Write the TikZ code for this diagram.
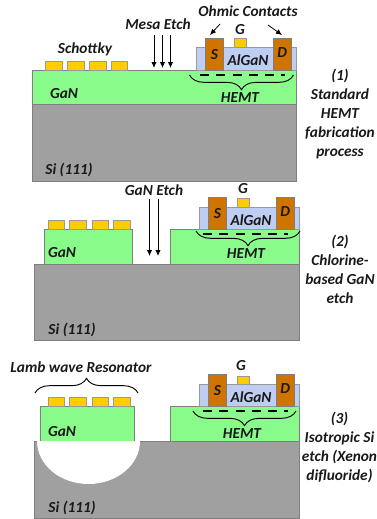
\documentclass[tikz,border=0pt]{standalone}
\usepackage{fontspec}
\setmainfont{Carlito}
\usetikzlibrary{arrows.meta,decorations.pathreplacing}
\definecolor{sigray}{HTML}{A0A0A0}
\definecolor{gangreen}{HTML}{88FB8A}
\definecolor{algan}{HTML}{C0CDF2}
\definecolor{ohmic}{HTML}{D07400}
\definecolor{schottky}{HTML}{FFCC00}
\definecolor{edge}{HTML}{7F7F7F}
\tikzset{
  lbl/.style={font=\fontsize{11.5}{15}\selectfont\bfseries\itshape,inner sep=0pt,text=black!90},
  steplbl/.style={lbl,align=center,font=\fontsize{11.5}{14.25}\selectfont\bfseries\itshape},
  si/.style={fill=sigray,draw=edge,line width=0.7pt},
  gan/.style={fill=gangreen,draw=edge,line width=0.6pt},
  alg/.style={fill=algan,draw=edge!80,line width=0.6pt},
  contact/.style={fill=ohmic,draw=edge,line width=0.6pt},
  pad/.style={fill=schottky,draw=edge!80,line width=0.5pt},
  twodeg/.style={line width=1.5pt,dash pattern=on 6.8pt off 5.4pt},
  bracelbl/.style={decorate,decoration={brace,amplitude=11pt},line width=0.7pt},
  etch/.style={-{Latex[length=4.5pt,width=4pt]},line width=0.6pt},
}
% #1 = name, #2 = left edge of AlGaN, #3 = GaN surface, #4 = AlGaN height, #5 = contact height
\newcommand{\hemtstack}[5]{
  \draw[alg] (#2,#3-#4) rectangle (#2+99.5,#3);
  \draw[contact] (#2+9,#3-#5) rectangle (#2+27,#3) node[midway,lbl] (s#1) {S};
  \draw[contact] (#2+76.5,#3-#5) rectangle (#2+95,#3) node[midway,lbl,yshift=1.5pt] (d#1) {D};
  \draw[pad] (#2+38,#3-#4-8.5) rectangle (#2+50,#3-#4);
  \node[lbl] (alg#1) at (#2+51.5,#3-#4/2+1.5) {AlGaN};
  \draw[twodeg] (#2+3.5,#3+4.5) -- (#2+88,#3+4.5);
}
\begin{document}
\begin{tikzpicture}[x=0.75pt,y=-0.75pt]
\useasboundingbox (0,0) rectangle (376,519);
\clip (0,0) rectangle (376,519);

% first step
\draw[si] (32.5,104.5) rectangle (296,181);
\draw[gan] (32.5,70) rectangle (296,104.5);
\foreach \x/\w in {45.5/16.5,67/17,89/17,111/16} \draw[pad] (\x,61) rectangle (\x+\w,70);
\hemtstack{a}{196.5}{70}{23}{31.5}
\draw[bracelbl,decoration={mirror}] (189.5,75) -- (293.5,75);
\node[lbl] (hemta) at (240,98) {HEMT};
\node[lbl] (gana) at (64,94) {GaN};
\node[lbl] (sia) at (69,170) {Si (111)};
\node[lbl] (sch) at (85,49) {Schottky};
\node[lbl] (mesa) at (158,24) {Mesa Etch};
\node[lbl] (ohm) at (248,11) {Ohmic Contacts};
\node[lbl] (ga) at (240,30) {G};
\foreach \x/\n in {154/p,162.5/q,170.5/r}{
  \coordinate (\n1) at (\x,35); \coordinate (\n2) at (\x,68);
  \draw[etch] (\n1) -- (\n2);
}
\coordinate (ohml) at (220,24); \coordinate (ohmr) at (268,25);
\coordinate (tipl) at (210,35); \coordinate (tipr) at (282,35);
\draw[etch] (ohml) -- (tipl);
\draw[etch] (ohmr) -- (tipr);
\node[steplbl] (stepa) at (340,114) {(1)\\Standard\\HEMT\\fabrication\\process};

% second step
\draw[si] (34.5,264) rectangle (299,340);
\draw[gan] (44,229.5) rectangle (132,264);
\draw[gan] (170,229.5) rectangle (299,264);
\foreach \x in {48,69.5,92,113.5} \draw[pad] (\x,220.5) rectangle (\x+16.5,229.5);
\hemtstack{b}{199.5}{229.5}{22.5}{32}
\draw[bracelbl,decoration={mirror}] (196,231) -- (300,231);
\node[lbl] (hemtb) at (246,254) {HEMT};
\node[lbl] (ganb) at (62,253) {GaN};
\node[lbl] (sib) at (72,330) {Si (111)};
\node[lbl] (gb) at (243,189) {G};
\node[lbl] (ganetch) at (154,190) {GaN Etch};
\foreach \x/\n in {149.5/u,158/v}{
  \coordinate (\n1) at (\x,199); \coordinate (\n2) at (\x,256);
  \draw[etch] (\n1) -- (\n2);
}
\node[steplbl] (stepb) at (340,269.5) {(2)\\Chlorine-\\based GaN\\etch};

% third step
\draw[si] (34.5,441) rectangle (299,518);
\draw[gan] (40.5,406.5) rectangle (134.5,441);
\draw[gan] (170,406.5) rectangle (299,441);
\fill[white] (37,441) arc[start angle=180,end angle=360,x radius=51.5,y radius=-43] -- cycle;
\foreach \x in {48,69.5,92,113.5} \draw[pad] (\x,397) rectangle (\x+16.5,406.5);
\hemtstack{c}{199.5}{406.5}{22}{32.5}
\draw[bracelbl,decoration={mirror}] (193,411) -- (296,411);
\draw[bracelbl] (35,393) -- (138,393);
\node[lbl] (hemtc) at (242,434) {HEMT};
\node[lbl] (ganc) at (62,432) {GaN};
\node[lbl] (sic) at (72,508) {Si (111)};
\node[lbl] (gc) at (241,366) {G};
\node[lbl] (lamb) at (81,367) {Lamb wave Resonator};
\node[steplbl] (stepc) at (339.5,447.5) {(3)\\Isotropic Si\\etch (Xenon\\difluoride)};
\end{tikzpicture}
\end{document}
